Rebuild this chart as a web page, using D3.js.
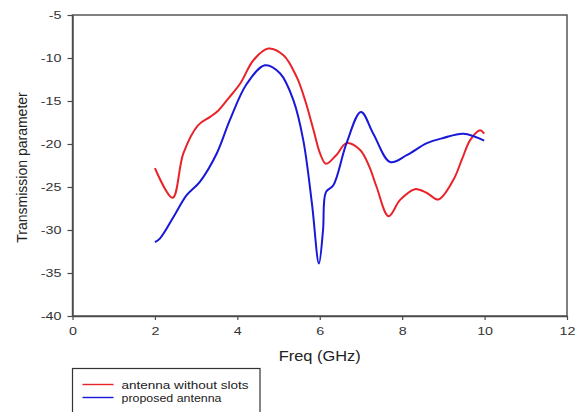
<!DOCTYPE html>
<html>
<head>
<meta charset="utf-8">
<script src="https://cdn.jsdelivr.net/npm/d3@7"></script>
<style>
  body { margin: 0; background: #fff; }
  svg { display: block; font-family: "Liberation Sans", Arial, sans-serif; }
</style>
</head>
<body>
<div id="chart"></div>
<script>
// values (Freq in GHz, transmission in dB)
const slotsFreq = [2.0, 2.43, 2.69, 3.05, 3.34, 3.54, 3.8, 4.07, 4.39, 4.75, 5.12, 5.44, 5.65, 5.85, 6.0, 6.15, 6.4, 6.65, 6.98, 7.2, 7.38, 7.67, 7.95, 8.31, 8.6, 8.88, 9.24, 9.45, 9.65, 9.89, 9.99];
const slotsVal  = [-22.8, -26.25, -21.1, -17.8, -16.85, -16.1, -14.6, -12.97, -10.26, -8.9, -9.68, -12.2, -15.0, -18.4, -21.0, -22.3, -21.3, -19.9, -20.7, -22.6, -25.0, -28.4, -26.5, -25.25, -25.7, -26.45, -24.2, -21.8, -19.55, -18.4, -18.8];

const propFreq = [2.0, 2.12, 2.45, 2.77, 3.09, 3.5, 3.82, 4.23, 4.67, 5.04, 5.36, 5.6, 5.81, 5.98, 6.08, 6.15, 6.33, 6.65, 7.0, 7.3, 7.71, 8.11, 8.6, 9.0, 9.49, 9.99];
const propVal  = [-31.4, -31.0, -28.5, -25.95, -24.4, -21.1, -17.2, -13.0, -10.85, -11.8, -14.9, -19.55, -26.9, -33.9, -30.0, -25.6, -24.8, -19.9, -16.27, -18.8, -22.1, -21.3, -19.9, -19.3, -18.8, -19.6];

const xTicks = [0, 2, 4, 6, 8, 10, 12];
const yTicks = [-40, -35, -30, -25, -20, -15, -10, -5];
const seriesNames = ["antenna without slots", "proposed antenna"];
const seriesColors = ["#e8232a", "#1818d8"];

const width = 582, height = 412;
const margin = {top: 15, right: 15, bottom: 96, left: 72.5};

const svg = d3.select("#chart").append("svg")
  .attr("width", width).attr("height", height);

// the source picture is a bit stretched sideways, so widen glyphs to match
const stretch = (sel, k) => sel.each(function() {
  const w = this.getComputedTextLength();
  d3.select(this).attr("textLength", w * k).attr("lengthAdjust", "spacingAndGlyphs");
});

const x = d3.scaleLinear().domain([0, 12]).range([margin.left, width - margin.right]);
const y = d3.scaleLinear().domain([-40, -5]).range([height - margin.bottom, margin.top]);

// frame
svg.append("rect")
  .attr("x", x(0)).attr("y", y(-5))
  .attr("width", x(12) - x(0)).attr("height", y(-40) - y(-5))
  .attr("fill", "none").attr("stroke", "#4a4a4a").attr("stroke-width", 1.4);

const xAxis = svg.append("g")
  .attr("transform", `translate(0, ${y(-40)})`)
  .call(d3.axisBottom(x).tickValues(xTicks).tickSize(4).tickSizeOuter(0).tickPadding(7));
const yAxis = svg.append("g")
  .attr("transform", `translate(${x(0)}, 0)`)
  .call(d3.axisLeft(y).tickValues(yTicks).tickSize(5).tickSizeOuter(0).tickPadding(6)
    .tickFormat(d => d));

[xAxis, yAxis].forEach(g => {
  g.select(".domain").attr("stroke", "#4a4a4a").attr("stroke-width", 1.4);
  g.selectAll(".tick line").attr("stroke", "#4a4a4a").attr("stroke-width", 1.2);
  g.selectAll("text").attr("font-size", "11px").attr("fill", "#333")
    .attr("font-family", "Liberation Sans, Arial, sans-serif")
    .call(stretch, 1.3);
});

// axis titles
svg.append("text")
  .attr("x", x(6)).attr("y", 361)
  .attr("text-anchor", "middle")
  .attr("font-size", "14.5px").attr("fill", "#222")
  .text("Freq (GHz)")
  .attr("textLength", 82).attr("lengthAdjust", "spacingAndGlyphs");

svg.append("text")
  .attr("transform", `translate(27, ${(y(-5) + y(-40)) / 2 + 2}) rotate(-90)`)
  .attr("text-anchor", "middle")
  .attr("font-size", "14px").attr("fill", "#222")
  .text("Transmission parameter");

// curves
const line = d3.line()
  .x(d => x(d[0])).y(d => y(d[1]))
  .curve(d3.curveCatmullRom.alpha(0.5));

const series = [
  d3.zip(slotsFreq, slotsVal),
  d3.zip(propFreq, propVal)
];

svg.append("g").selectAll("path")
  .data(series)
  .join("path")
    .attr("d", line)
    .attr("fill", "none")
    .attr("stroke", (d, i) => seriesColors[i])
    .attr("stroke-width", 2);

// legend
const legend = svg.append("g");
legend.append("rect")
  .attr("x", 72.5).attr("y", 368.5)
  .attr("width", 187.5).attr("height", 50)
  .attr("fill", "none").attr("stroke", "#333").attr("stroke-width", 1.2);

const legendWidths = [127, 100];
seriesNames.forEach((name, i) => {
  const ly = 384.5 + i * 13;
  legend.append("line")
    .attr("x1", 82.5).attr("x2", 113.5).attr("y1", ly).attr("y2", ly)
    .attr("stroke", seriesColors[i]).attr("stroke-width", 1.4);
  legend.append("text")
    .attr("x", 121.5).attr("y", ly + 4)
    .attr("font-size", "11.5px").attr("fill", "#222")
    .text(name)
    .attr("textLength", legendWidths[i]).attr("lengthAdjust", "spacingAndGlyphs");
});
</script>
</body>
</html>
